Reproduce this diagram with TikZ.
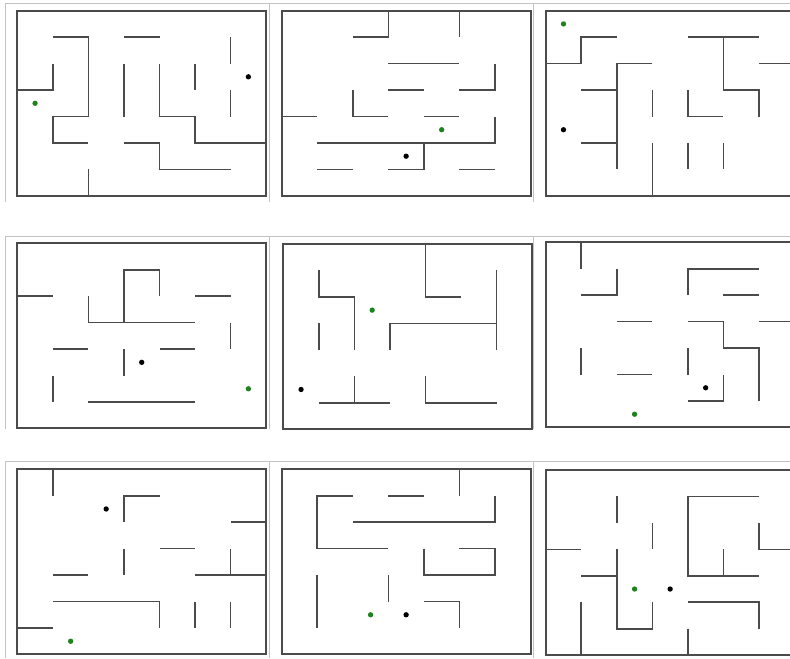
\documentclass[tikz,border=0pt]{standalone}
\usepackage{tikz}
\usetikzlibrary{positioning}

\definecolor{wallgray}{RGB}{75,75,75}
\definecolor{framegray}{RGB}{195,195,195}
\definecolor{dotgreen}{RGB}{30,130,30}

\begin{document}
\begin{tikzpicture}[x=0.03cm, y=-0.03cm,
    wall/.style={draw=wallgray, line width=1.4pt},
    border/.style={draw=wallgray, line width=1.7pt},
    frame/.style={draw=framegray, line width=0.8pt},
    grn/.style={circle, fill=dotgreen, inner sep=0pt, minimum size=0.16cm},
    blk/.style={circle, fill=black, inner sep=0pt, minimum size=0.16cm},
    mazegrid/.style={xscale=35.55, yscale=26.45}]
    \clip (0,0) rectangle (790,658);
    \fill[white] (0,0) rectangle (790,658);

    % Screenshot frames
    \draw[frame] (5,202) -- (5,3) -- (790,3);
    \draw[frame] (269.5,3) -- (269.5,202);
    \draw[frame] (533.5,3) -- (533.5,202);
    \draw[frame] (5,429) -- (5,236.5) -- (790,236.5);
    \draw[frame] (269.5,236.5) -- (269.5,429);
    \draw[frame] (533.5,236.5) -- (533.5,429);
    \draw[frame] (5,658) -- (5,461.5) -- (790,461.5);
    \draw[frame] (269.5,461.5) -- (269.5,658);
    \draw[frame] (533.5,461.5) -- (533.5,658);

    % Maze 1
    \begin{scope}[shift={(17.3,10.7)}, mazegrid]
        \draw[border] (0,0) rectangle (7,7);
        \draw[wall] (1,1) -- (2,1) -- (2,4) -- (1,4) -- (1,5) -- (2,5);
        \draw[wall] (3,1) -- (4,1);
        \draw[wall] (6,1) -- (6,2);
        \draw[wall] (0,3) -- (1,3) -- (1,2);
        \draw[wall] (3,2) -- (3,4);
        \draw[wall] (4,2) -- (4,4) -- (5,4) -- (5,5) -- (7,5);
        \draw[wall] (5,2) -- (5,3);
        \draw[wall] (6,3) -- (6,4);
        \draw[wall] (3,5) -- (4,5) -- (4,6) -- (6,6);
        \draw[wall] (2,6) -- (2,7);
        \node[grn] (grn1) at (0.5,3.5) {};
        \node[blk] (blk1) at (6.5,2.5) {};
    \end{scope}

    % Maze 2
    \begin{scope}[shift={(281.7,10.7)}, mazegrid]
        \draw[border] (0,0) rectangle (7,7);
        \draw[wall] (2,1) -- (3,1) -- (3,0);
        \draw[wall] (5,0) -- (5,1);
        \draw[wall] (3,2) -- (5,2);
        \draw[wall] (5,3) -- (6,3) -- (6,2);
        \draw[wall] (3,3) -- (4,3);
        \draw[wall] (2,3) -- (2,4) -- (3,4);
        \draw[wall] (0,4) -- (1,4);
        \draw[wall] (4,4) -- (5,4);
        \draw[wall] (1,5) -- (6,5) -- (6,4);
        \draw[wall] (4,5) -- (4,6) -- (3,6);
        \draw[wall] (1,6) -- (2,6);
        \draw[wall] (5,6) -- (6,6);
        \node[grn] (grn2) at (4.5,4.5) {};
        \node[blk] (blk2) at (3.5,5.5) {};
    \end{scope}

    % Maze 3
    \begin{scope}[shift={(545.7,10.7)}, mazegrid]
        \draw[border] (0,0) rectangle (7,7);
        \draw[wall] (0,2) -- (1,2) -- (1,1) -- (2,1);
        \draw[wall] (4,1) -- (6,1);
        \draw[wall] (5,1) -- (5,3) -- (6,3) -- (6,4);
        \draw[wall] (3,2) -- (2,2) -- (2,6);
        \draw[wall] (6,2) -- (7,2);
        \draw[wall] (1,3) -- (2,3);
        \draw[wall] (3,3) -- (3,4);
        \draw[wall] (4,3) -- (4,4) -- (5,4);
        \draw[wall] (1,5) -- (2,5);
        \draw[wall] (3,5) -- (3,7);
        \draw[wall] (4,5) -- (4,6);
        \draw[wall] (5,5) -- (5,6);
        \node[grn] (grn3) at (0.5,0.5) {};
        \node[blk] (blk3) at (0.5,4.5) {};
    \end{scope}

    % Maze 4
    \begin{scope}[shift={(17.3,243.3)}, mazegrid]
        \draw[border] (0,0) rectangle (7,7);
        \draw[wall] (3,3) -- (3,1) -- (4,1) -- (4,2);
        \draw[wall] (0,2) -- (1,2);
        \draw[wall] (2,2) -- (2,3) -- (5,3);
        \draw[wall] (5,2) -- (6,2);
        \draw[wall] (6,3) -- (6,4);
        \draw[wall] (1,4) -- (2,4);
        \draw[wall] (3,4) -- (3,5);
        \draw[wall] (4,4) -- (5,4);
        \draw[wall] (1,5) -- (1,6);
        \draw[wall] (2,6) -- (5,6);
        \node[grn] (grn4) at (6.5,5.5) {};
        \node[blk] (blk4) at (3.5,4.5) {};
    \end{scope}

    % Maze 5
    \begin{scope}[shift={(283.3,244)}, mazegrid]
        \draw[border] (0,0) rectangle (7,7);
        \draw[wall] (4,0) -- (4,2) -- (5,2);
        \draw[wall] (1,1) -- (1,2) -- (2,2) -- (2,4);
        \draw[wall] (6,1) -- (6,4);
        \draw[wall] (3,4) -- (3,3) -- (6,3);
        \draw[wall] (1,3) -- (1,4);
        \draw[wall] (1,6) -- (3,6);
        \draw[wall] (2,5) -- (2,6);
        \draw[wall] (4,5) -- (4,6) -- (6,6);
        \node[grn] (grn5) at (2.5,2.5) {};
        \node[blk] (blk5) at (0.5,5.5) {};
    \end{scope}

    % Maze 6
    \begin{scope}[shift={(545.7,242.3)}, mazegrid]
        \draw[border] (0,0) rectangle (7,7);
        \draw[wall] (1,0) -- (1,1);
        \draw[wall] (1,2) -- (2,2) -- (2,1);
        \draw[wall] (4,2) -- (4,1) -- (6,1);
        \draw[wall] (5,2) -- (6,2);
        \draw[wall] (2,3) -- (3,3);
        \draw[wall] (4,3) -- (5,3) -- (5,4) -- (6,4) -- (6,6);
        \draw[wall] (6,3) -- (7,3);
        \draw[wall] (1,4) -- (1,5);
        \draw[wall] (4,4) -- (4,5);
        \draw[wall] (2,5) -- (3,5);
        \draw[wall] (5,5) -- (5,6) -- (4,6);
        \node[grn] (grn6) at (2.5,6.5) {};
        \node[blk] (blk6) at (4.5,5.5) {};
    \end{scope}

    % Maze 7
    \begin{scope}[shift={(17.3,469.3)}, mazegrid]
        \draw[border] (0,0) rectangle (7,7);
        \draw[wall] (1,0) -- (1,1);
        \draw[wall] (3,2) -- (3,1) -- (4,1);
        \draw[wall] (6,2) -- (7,2);
        \draw[wall] (3,3) -- (3,4);
        \draw[wall] (4,3) -- (5,3);
        \draw[wall] (5,4) -- (7,4);
        \draw[wall] (6,3) -- (6,4);
        \draw[wall] (1,4) -- (2,4);
        \draw[wall] (1,5) -- (4,5) -- (4,6);
        \draw[wall] (5,5) -- (5,6);
        \draw[wall] (6,5) -- (6,6);
        \draw[wall] (0,6) -- (1,6);
        \node[grn] (grn7) at (1.5,6.5) {};
        \node[blk] (blk7) at (2.5,1.5) {};
    \end{scope}

    % Maze 8
    \begin{scope}[shift={(281.7,469.3)}, mazegrid]
        \draw[border] (0,0) rectangle (7,7);
        \draw[wall] (5,0) -- (5,1);
        \draw[wall] (2,1) -- (1,1) -- (1,3) -- (3,3);
        \draw[wall] (3,1) -- (4,1);
        \draw[wall] (2,2) -- (6,2) -- (6,1);
        \draw[wall] (4,3) -- (4,4) -- (6,4) -- (6,3) -- (5,3);
        \draw[wall] (1,4) -- (1,6);
        \draw[wall] (3,4) -- (3,5);
        \draw[wall] (4,5) -- (5,5) -- (5,6);
        \node[grn] (grn8) at (2.5,5.5) {};
        \node[blk] (blk8) at (3.5,5.5) {};
    \end{scope}

    % Maze 9
    \begin{scope}[shift={(545.7,470)}, mazegrid]
        \draw[border] (0,0) rectangle (7,7);
        \draw[wall] (2,1) -- (2,2);
        \draw[wall] (6,1) -- (4,1) -- (4,4) -- (6,4);
        \draw[wall] (5,3) -- (5,4);
        \draw[wall] (3,2) -- (3,3);
        \draw[wall] (6,2) -- (6,3) -- (7,3);
        \draw[wall] (0,3) -- (1,3);
        \draw[wall] (2,3) -- (2,6) -- (3,6) -- (3,5);
        \draw[wall] (1,4) -- (2,4);
        \draw[wall] (1,5) -- (1,7);
        \draw[wall] (4,5) -- (6,5) -- (6,6);
        \draw[wall] (4,6) -- (4,7);
        \node[grn] (grn9) at (2.5,4.5) {};
        \node[blk] (blk9) at (3.5,4.5) {};
    \end{scope}
\end{tikzpicture}
\end{document}
